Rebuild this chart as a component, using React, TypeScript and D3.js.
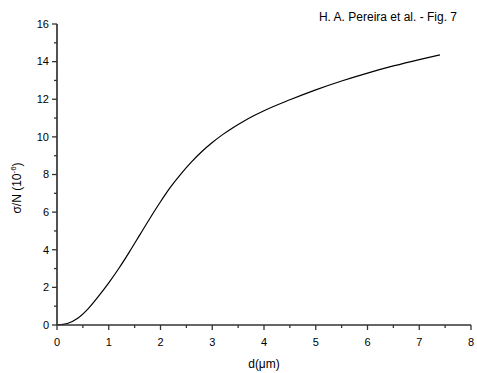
import React from "react";
import * as d3 from "d3";

// Cross-section per particle vs. particle diameter
const diameters = [0, 0.2, 0.4, 0.6, 0.8, 1.0, 1.2, 1.4, 1.6, 1.8, 2.0, 2.2, 2.4, 2.6, 2.8, 3.0, 3.2, 3.4, 3.6, 3.8, 4.0, 4.5, 5.0, 5.5, 6.0, 6.5, 7.0, 7.4];
const sigmaPerN = [0, 0.08, 0.36, 0.86, 1.52, 2.24, 3.03, 3.89, 4.79, 5.69, 6.55, 7.35, 8.05, 8.67, 9.22, 9.7, 10.12, 10.49, 10.82, 11.12, 11.39, 11.97, 12.5, 12.97, 13.39, 13.77, 14.11, 14.36];

const xMajor = [0, 1, 2, 3, 4, 5, 6, 7, 8];
const xMinor = [0.5, 1.5, 2.5, 3.5, 4.5, 5.5, 6.5, 7.5];
const yMajor = [0, 2, 4, 6, 8, 10, 12, 14, 16];
const yMinor = [1, 3, 5, 7, 9, 11, 13, 15];

const title = "H. A. Pereira et al. - Fig. 7";

const W = 477;
const H = 373;
const left = 57;
const right = 471;
const top = 24;
const bottom = 325;
const font = "'Liberation Sans', Arial, sans-serif";
const axisColor = "#333";

export default function App() {
  const x = d3.scaleLinear().domain([0, 8]).range([left, right]);
  const y = d3.scaleLinear().domain([0, 16]).range([bottom, top]);
  const pts: [number, number][] = diameters.map((d, i) => [d, sigmaPerN[i]]);
  const line = d3
    .line<[number, number]>()
    .x((p) => x(p[0]))
    .y((p) => y(p[1]))
    .curve(d3.curveMonotoneX);

  return (
    <svg width={W} height={H} style={{ position: "absolute", left: 0, top: 0, background: "#fff" }} fontFamily={font}>
      <rect width={W} height={H} fill="#fff" />
      <text x={457} y={21} fontSize={12} textAnchor="end" fill="#000">{title}</text>

      {/* curve */}
      <path d={line(pts) || ""} fill="none" stroke="#000" strokeWidth={1.2} />

      {/* left axis */}
      <line x1={left} x2={left} y1={top} y2={bottom} stroke={axisColor} strokeWidth={1.7} />
      {yMajor.map((v) => (
        <g key={"ym" + v}>
          <line x1={left - 5} x2={left} y1={y(v)} y2={y(v)} stroke={axisColor} strokeWidth={1.3} />
          <text x={left - 8} y={y(v)} dy="0.35em" fontSize={11} textAnchor="end" fill="#000">{v}</text>
        </g>
      ))}
      {yMinor.map((v) => (
        <line key={"yn" + v} x1={left - 3} x2={left} y1={y(v)} y2={y(v)} stroke={axisColor} strokeWidth={1.3} />
      ))}

      {/* bottom axis */}
      <line x1={left} x2={right} y1={bottom} y2={bottom} stroke={axisColor} strokeWidth={1.7} />
      {xMajor.map((v) => (
        <g key={"xm" + v}>
          <line x1={x(v)} x2={x(v)} y1={bottom} y2={bottom + 5} stroke={axisColor} strokeWidth={1.3} />
          <text x={x(v)} y={bottom + 17} dy="0.35em" fontSize={11} textAnchor="middle" fill="#000">{v}</text>
        </g>
      ))}
      {xMinor.map((v) => (
        <line key={"xn" + v} x1={x(v)} x2={x(v)} y1={bottom} y2={bottom + 3} stroke={axisColor} strokeWidth={1.3} />
      ))}

      {/* axis titles */}
      <text x={(left + right) / 2} y={368} fontSize={12} textAnchor="middle" fill="#000">d(μm)</text>
      <text transform={`translate(21, ${188}) rotate(-90)`} fontSize={12} textAnchor="middle" fill="#000">
        σ/N (10<tspan dy={-5} fontSize={8}>-6</tspan><tspan dy={5}>)</tspan>
      </text>
    </svg>
  );
}
